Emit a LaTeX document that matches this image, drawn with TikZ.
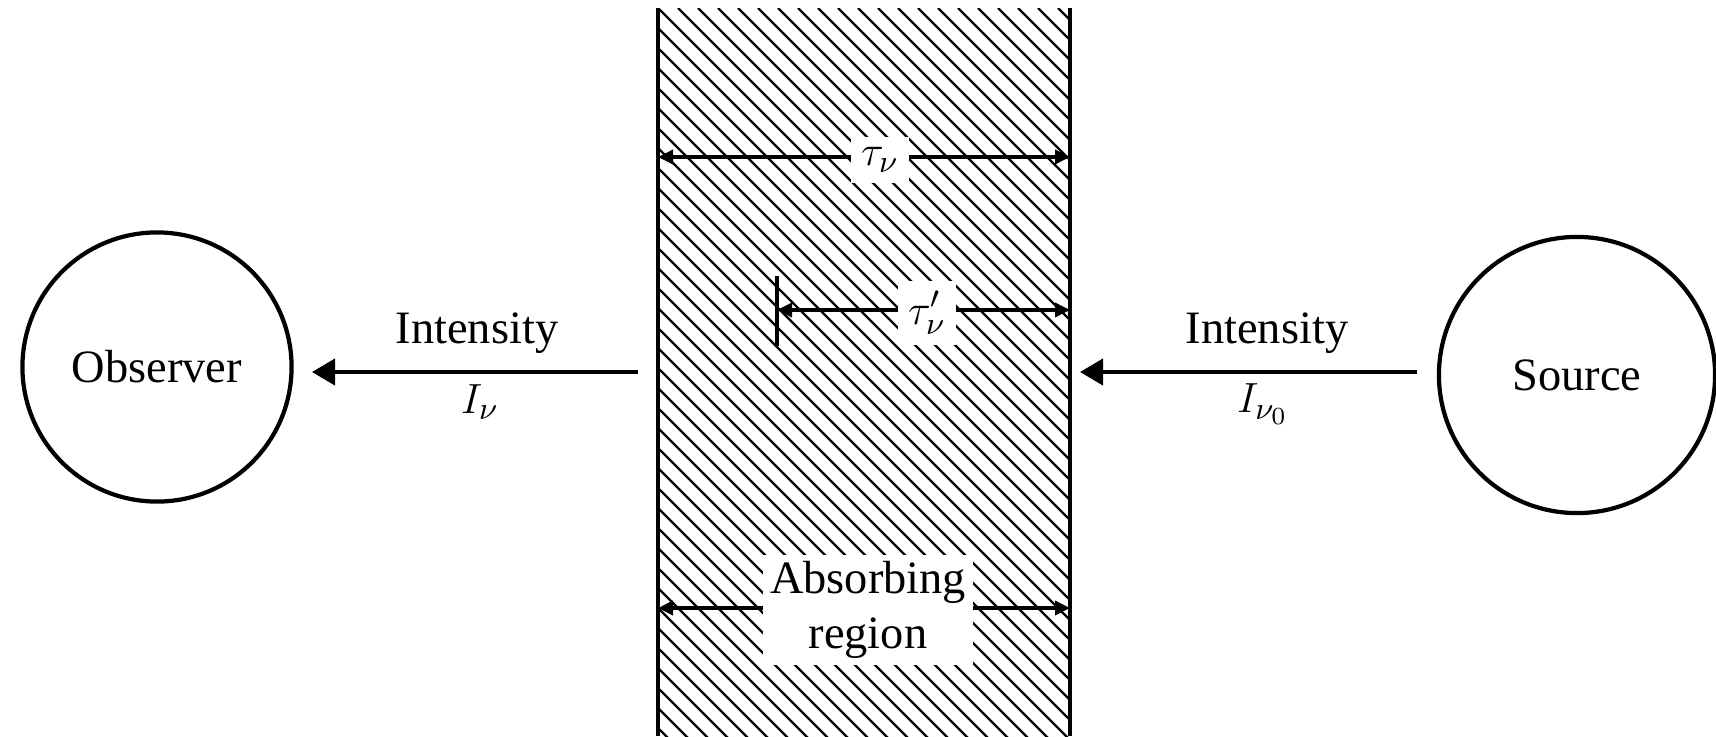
\documentclass[tikz,border=0pt]{standalone}
\usepackage{fontspec}
\setmainfont{Liberation Serif}
\usetikzlibrary{arrows.meta}
\begin{document}
\begin{tikzpicture}[x=0.01cm,y=-0.01cm,
  every node/.style={font=\fontsize{13.2}{15.5}\selectfont},
  body/.style={circle,draw,line width=1.2pt,inner sep=0pt},
  flow/.style={line width=1.2pt,-{Triangle[length=0.23cm,width=0.26cm]}},
  dim/.style={line width=1pt,{Triangle[length=0.15cm,width=0.14cm]}-{Triangle[length=0.15cm,width=0.14cm]}},
  blank/.style={fill=white,inner sep=3pt},
  hatch/.style={line width=0.65pt},
  wall/.style={line width=1.4pt}]
\useasboundingbox (0,0) rectangle (1716,736);

% corners of the absorbing slab
\coordinate (tl) at (658,8);
\coordinate (tr) at (1070,8);
\coordinate (bl) at (658,736);
\coordinate (br) at (1070,736);

% diagonal hatching inside the slab
\begin{scope}
  \clip (tl) rectangle (br);
  \foreach \i in {-760,-740,...,440}
    \draw[hatch] (658+\i,8) -- ++(760,760);
\end{scope}
\draw[wall] (tl) -- (bl);
\draw[wall] (tr) -- (br);

% observer and source
\node[body,minimum size=2.69cm] (obs) at (157,367) {Observer};
\node[body,minimum size=2.76cm] (src) at (1577,375) {Source};

% beams of radiation
\coordinate (outstart) at (638,372);
\coordinate (outend) at (312,372);
\coordinate (instart) at (1417,372);
\coordinate (inend) at (1080,372);
\draw[flow] (outstart) -- (outend);
\draw[flow] (instart) -- (inend);
\node (intl) at (477,333) {Intensity};
\node (il) at (480,402) {$I_\nu$};
\node (intr) at (1267,333) {Intensity};
\node (ir) at (1263,404) {$I_{\nu_0}$};

% optical depth across the whole slab
\coordinate (d1a) at (658,157);
\coordinate (d1b) at (1070,157);
\draw[dim] (d1a) -- (d1b);
\node[blank] (tau) at (880,160) {$\tau_\nu$};

% optical depth to an interior point
\coordinate (d2a) at (777,310);
\coordinate (d2b) at (1070,310);
\coordinate (ticktop) at (777,276);
\coordinate (tickbot) at (777,346);
\draw[line width=1pt] (ticktop) -- (tickbot);
\draw[dim] (d2a) -- (d2b);
\node[blank] (taup) at (927,313) {$\tau'_\nu$};

% width of the absorbing region
\coordinate (d3a) at (658,608);
\coordinate (d3b) at (1070,608);
\draw[dim] (d3a) -- (d3b);
\node[blank,align=center,inner sep=2pt] (absr) at (868,610) {Absorbing\\region};
\end{tikzpicture}
\end{document}
